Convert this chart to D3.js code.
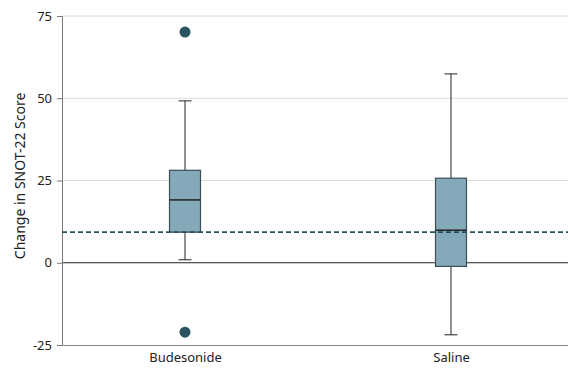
<!DOCTYPE html>
<html>
<head>
<meta charset="utf-8">
<script src="https://cdn.jsdelivr.net/npm/d3@7"></script>
<style>
  body { margin: 0; background: #fff; }
  text { font-family: "Noto Sans", sans-serif; }
</style>
</head>
<body>
<div class="chart"></div>
<script>
// data
const groups = ["Budesonide", "Saline"];
const q1 = [9.3, -1.1];
const medians = [19.1, 9.9];
const q3 = [28.1, 25.7];
const whiskLow = [0.9, -21.9];
const whiskHigh = [49.2, 57.4];
const outliers = [
  {group: "Budesonide", value: 70.1},
  {group: "Budesonide", value: -21.1}
];
const refLine = 9.3;
const yTicks = [-25, 0, 25, 50, 75];

const margin = ({top: 16, right: 0, bottom: 27, left: 62});
const width = 568 - margin.left - margin.right;
const height = 372 - margin.top - margin.bottom;

const svg = d3.select('.chart').append('svg')
    .attr("width", width + margin.left + margin.right)
    .attr("height", height + margin.top + margin.bottom)
  .append("g")
    .attr("transform", `translate(${margin.left},${margin.top})`);

const yScale = d3.scaleLinear()
    .domain([-25, 75])
    .range([height, 0]);

const xScale = d3.scalePoint()
    .domain(groups)
    .range([123, 389]);

const boxes = groups.map((g, i) => ({
  group: g, q1: q1[i], median: medians[i], q3: q3[i],
  lo: whiskLow[i], hi: whiskHigh[i]
}));

// gridlines
svg.append("g")
    .selectAll("line")
    .data(yTicks.filter(d => d > 0))
    .enter()
    .append("line")
    .attr("x1", 0)
    .attr("x2", width)
    .attr("y1", d => yScale(d))
    .attr("y2", d => yScale(d))
    .attr("stroke", "#dcdcdc")
    .attr("stroke-width", 1);

// zero line
svg.append("line")
    .attr("x1", 0)
    .attr("x2", width)
    .attr("y1", yScale(0))
    .attr("y2", yScale(0))
    .attr("stroke", "#222")
    .attr("stroke-width", 1);

// y axis
const yAxis = d3.axisLeft(yScale)
    .tickValues(yTicks)
    .tickSize(5)
    .tickPadding(5);

svg.append("g")
    .attr("class", "axis y-axis")
    .call(yAxis)
    .call(g => g.select(".domain").attr("stroke", "#777"))
    .call(g => g.selectAll(".tick line").attr("stroke", "#777"))
    .call(g => g.selectAll(".tick text")
        .attr("font-size", 13)
        .attr("fill", "#222")
        .style("font-family", "'Noto Sans', sans-serif")
        .text(d => d < 0 ? "-" + Math.abs(d) : d));

// x axis
const xAxis = d3.axisBottom(xScale).tickSize(0).tickPadding(8);

svg.append("g")
    .attr("class", "axis x-axis")
    .attr("transform", `translate(0,${height})`)
    .call(xAxis)
    .call(g => g.select(".domain").attr("stroke", "#888").attr("d", `M0,0.5H${width}`))
    .call(g => g.selectAll(".tick text")
        .attr("font-size", 13)
        .attr("fill", "#222")
        .style("font-family", "'Noto Sans', sans-serif"));

// whiskers
const boxW = 31, capW = 13;
const bx = svg.append("g").selectAll("g")
    .data(boxes)
    .enter()
    .append("g");

bx.append("line")
    .attr("x1", d => xScale(d.group))
    .attr("x2", d => xScale(d.group))
    .attr("y1", d => yScale(d.lo))
    .attr("y2", d => yScale(d.hi))
    .attr("stroke", "#222");

bx.selectAll(".cap")
    .data(d => [d.lo, d.hi].map(v => ({group: d.group, v})))
    .enter()
    .append("line")
    .attr("class", "cap")
    .attr("x1", d => xScale(d.group) - capW / 2)
    .attr("x2", d => xScale(d.group) + capW / 2)
    .attr("y1", d => yScale(d.v))
    .attr("y2", d => yScale(d.v))
    .attr("stroke", "#222");

bx.append("rect")
    .attr("x", d => xScale(d.group) - boxW / 2)
    .attr("width", boxW)
    .attr("y", d => yScale(d.q3))
    .attr("height", d => yScale(d.q1) - yScale(d.q3))
    .attr("fill", "#84a9b8")
    .attr("stroke", "#3d4d54")
    .attr("stroke-width", 1.2);

bx.append("line")
    .attr("x1", d => xScale(d.group) - boxW / 2)
    .attr("x2", d => xScale(d.group) + boxW / 2)
    .attr("y1", d => yScale(d.median))
    .attr("y2", d => yScale(d.median))
    .attr("stroke", "#222")
    .attr("stroke-width", 1.5);

// reference dashed line
svg.append("line")
    .attr("x1", 0)
    .attr("x2", width)
    .attr("y1", yScale(refLine))
    .attr("y2", yScale(refLine))
    .attr("stroke", "#24535f")
    .attr("stroke-width", 1.6)
    .attr("stroke-dasharray", "5,3");

// outliers
svg.append("g")
    .selectAll("circle")
    .data(outliers)
    .enter()
    .append("circle")
    .attr("cx", d => xScale(d.group))
    .attr("cy", d => yScale(d.value))
    .attr("r", 5.5)
    .attr("fill", "#2b5463");

// y label
svg.append("text")
    .attr("transform", `translate(${20 - margin.left},${yScale(26.4)}) rotate(-90)`)
    .attr("text-anchor", "middle")
    .attr("dy", "0.35em")
    .attr("font-size", 14)
    .attr("fill", "#222")
    .text("Change in SNOT-22 Score");
</script>
</body>
</html>
